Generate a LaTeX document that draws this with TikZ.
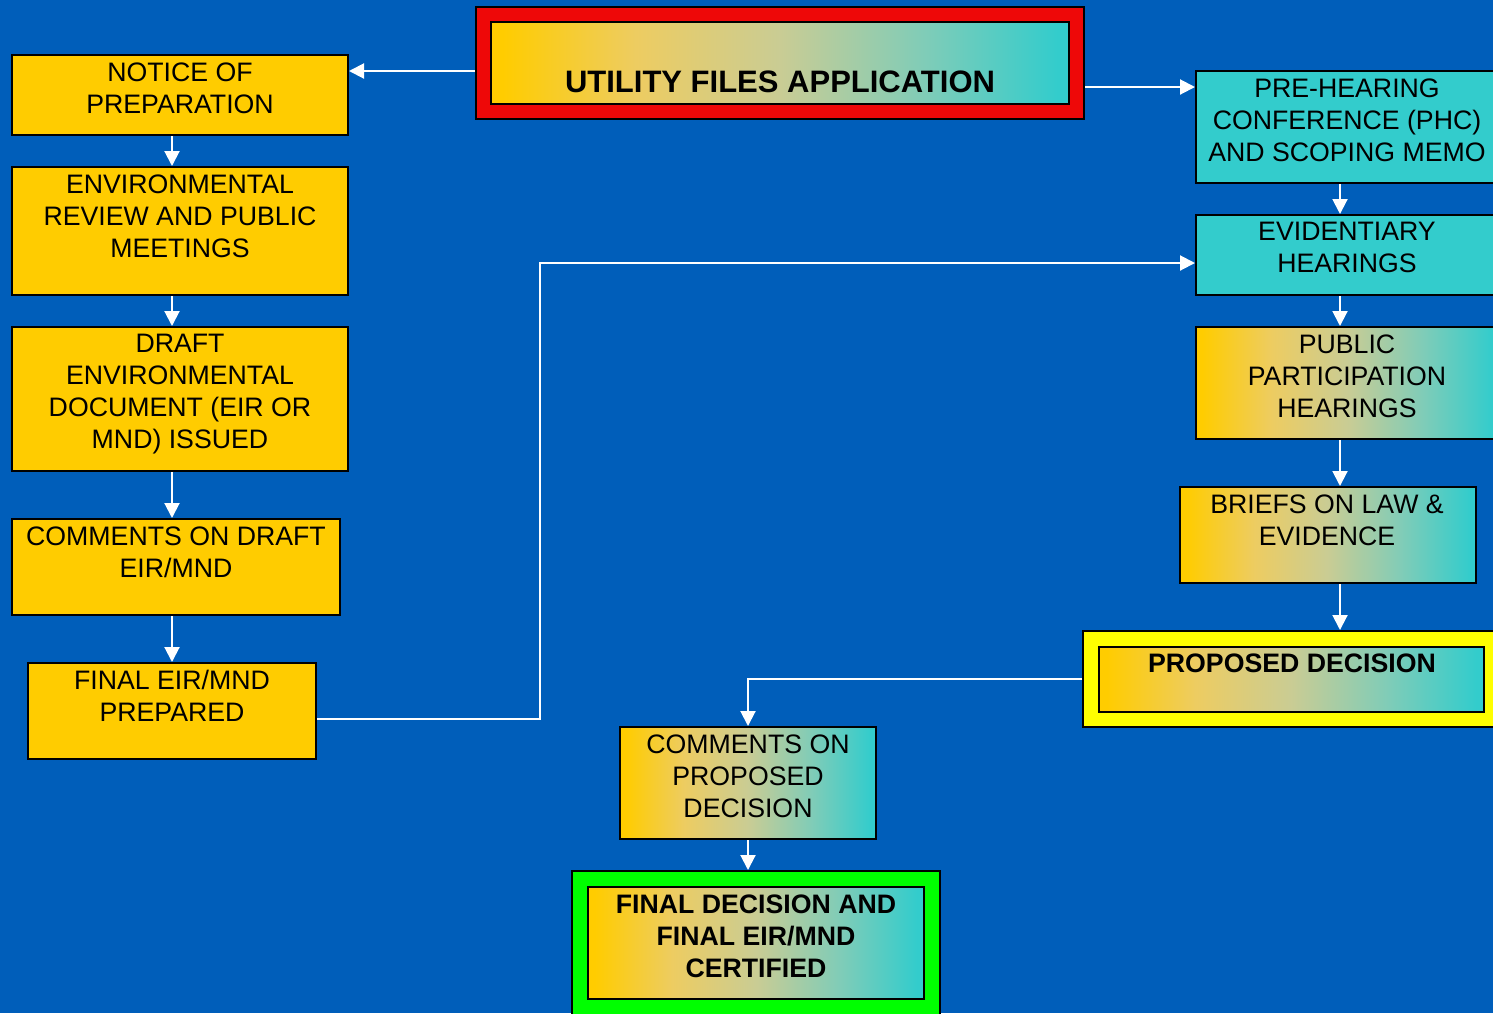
\documentclass[tikz,border=0pt]{standalone}
\usepackage{fontspec}
\setmainfont{Liberation Sans}
\usetikzlibrary{arrows.meta,calc}
\definecolor{bgblue}{RGB}{0,94,186}
\definecolor{gold}{RGB}{255,204,0}
\definecolor{tealc}{RGB}{51,204,204}
\definecolor{frred}{RGB}{238,8,8}
\definecolor{fryel}{RGB}{255,255,0}
\definecolor{frgreen}{RGB}{0,255,0}
\pgfdeclarehorizontalshading{goldteal}{100bp}{%
  rgb(0bp)=(1,0.8,0);
  rgb(26bp)=(1,0.8,0);
  rgb(37.5bp)=(0.93,0.8,0.38);
  rgb(50bp)=(0.79,0.8,0.58);
  rgb(62.5bp)=(0.5,0.8,0.72);
  rgb(74bp)=(0.2,0.8,0.8);
  rgb(100bp)=(0.2,0.8,0.8)}
\tikzset{
  box/.style={draw=black, line width=2pt, inner sep=0pt, rectangle},
  ybox/.style={box, fill=gold},
  tbox/.style={box, fill=tealc},
  gbox/.style={box, shading=goldteal, shading angle=0},
  txt/.style={anchor=north, inner sep=0pt, align=center, text=black, font=\fontsize{26.7pt}{32pt}\selectfont},
  btxt/.style={txt, font=\bfseries\fontsize{26.7pt}{32pt}\selectfont},
  arr/.style={draw=white, line width=2pt, -{Triangle[length=15pt,width=15pt]}},
}
\begin{document}
\begin{tikzpicture}[x=1pt,y=-1pt]
\fill[bgblue] (0,0) rectangle (1493,1013);
\useasboundingbox (0,0) rectangle (1493,1013);

% title
\node[box, fill=frred, minimum width=608pt, minimum height=112pt] (title) at (780,63) {};
\node[gbox, minimum width=578pt, minimum height=82pt] (titlein) at (780,63) {};
\node[txt, font=\bfseries\fontsize{31pt}{36pt}\selectfont] (titleT) at (780,70.8) {UTILITY FILES APPLICATION};

% left column
\node[ybox, minimum width=336pt, minimum height=80pt] (notice) at (180,95) {};
\node[txt] (noticeT) at (180,62.4) {NOTICE OF\\PREPARATION};
\node[ybox, minimum width=336pt, minimum height=128pt] (env) at (180,231) {};
\node[txt] (envT) at (180,174.4) {ENVIRONMENTAL\\REVIEW AND PUBLIC\\MEETINGS};
\node[ybox, minimum width=336pt, minimum height=144pt] (draft) at (180,399) {};
\node[txt] (draftT) at (180,334.4) {DRAFT\\ENVIRONMENTAL\\DOCUMENT (EIR OR\\MND) ISSUED};
\node[ybox, minimum width=328pt, minimum height=96pt] (cdraft) at (176,567) {};
\node[txt] (cdraftT) at (176,526.4) {COMMENTS ON DRAFT\\EIR/MND};
\node[ybox, minimum width=288pt, minimum height=96pt] (feir) at (172,711) {};
\node[txt] (feirT) at (172,670.4) {FINAL EIR/MND\\PREPARED};

% right column
\node[tbox, minimum width=302pt, minimum height=112pt] (phc) at (1347,127) {};
\node[txt] (phcT) at (1347,78.4) {PRE-HEARING\\CONFERENCE (PHC)\\AND SCOPING MEMO};
\node[tbox, minimum width=302pt, minimum height=80pt] (evid) at (1347,255) {};
\node[txt] (evidT) at (1347,222.4) {EVIDENTIARY\\HEARINGS};
\node[gbox, minimum width=302pt, minimum height=112pt] (ppart) at (1347,383) {};
\node[txt] (ppartT) at (1347,334.4) {PUBLIC\\PARTICIPATION\\HEARINGS};
\node[gbox, minimum width=296pt, minimum height=96pt] (briefs) at (1328,535) {};
\node[txt] (briefsT) at (1327,494.4) {BRIEFS ON LAW \&\\EVIDENCE};
\node[box, fill=fryel, minimum width=417pt, minimum height=96pt] (prop) at (1291.5,679) {};
\node[gbox, minimum width=385pt, minimum height=65pt] (propin) at (1291.5,679.5) {};
\node[btxt] (propT) at (1292,653.4) {PROPOSED DECISION};

% bottom centre
\node[gbox, minimum width=256pt, minimum height=112pt] (cprop) at (748,783) {};
\node[txt] (cpropT) at (748,734.4) {COMMENTS ON\\PROPOSED\\DECISION};
\node[box, fill=frgreen, minimum width=368pt, minimum height=144pt] (final) at (756,943) {};
\node[gbox, minimum width=336pt, minimum height=112pt] (finalin) at (756,943) {};
\node[btxt] (finalT) at (756,894.4) {FINAL DECISION AND\\FINAL EIR/MND\\CERTIFIED};

\coordinate (bend) at (540,263);

% connectors
\draw[arr] ([yshift=-8pt]title.west) -- ([yshift=24pt]notice.east);
\draw[arr] ([yshift=-24pt]title.east) -- ([yshift=40pt]phc.west);
\draw[arr] ([xshift=-8pt]notice.south) -- ([xshift=-8pt]env.north);
\draw[arr] ([xshift=-8pt]env.south) -- ([xshift=-8pt]draft.north);
\draw[arr] ([xshift=-8pt]draft.south) -- ([xshift=-4pt]cdraft.north);
\draw[arr] ([xshift=-4pt]cdraft.south) -- (feir.north);
\draw[arr] ([yshift=-8pt]feir.east) -| (bend) -- ([yshift=-8pt]evid.west);
\draw[arr] ([xshift=-7pt]phc.south) -- ([xshift=-7pt]evid.north);
\draw[arr] ([xshift=-7pt]evid.south) -- ([xshift=-7pt]ppart.north);
\draw[arr] ([xshift=-7pt]ppart.south) -- ([xshift=12pt]briefs.north);
\draw[arr] ([xshift=12pt]briefs.south) -- ([xshift=48.5pt]prop.north);
\draw[arr] (prop.west) -| (cprop.north);
\draw[arr] (cprop.south) -- (cprop.south |- final.north);
\end{tikzpicture}
\end{document}
